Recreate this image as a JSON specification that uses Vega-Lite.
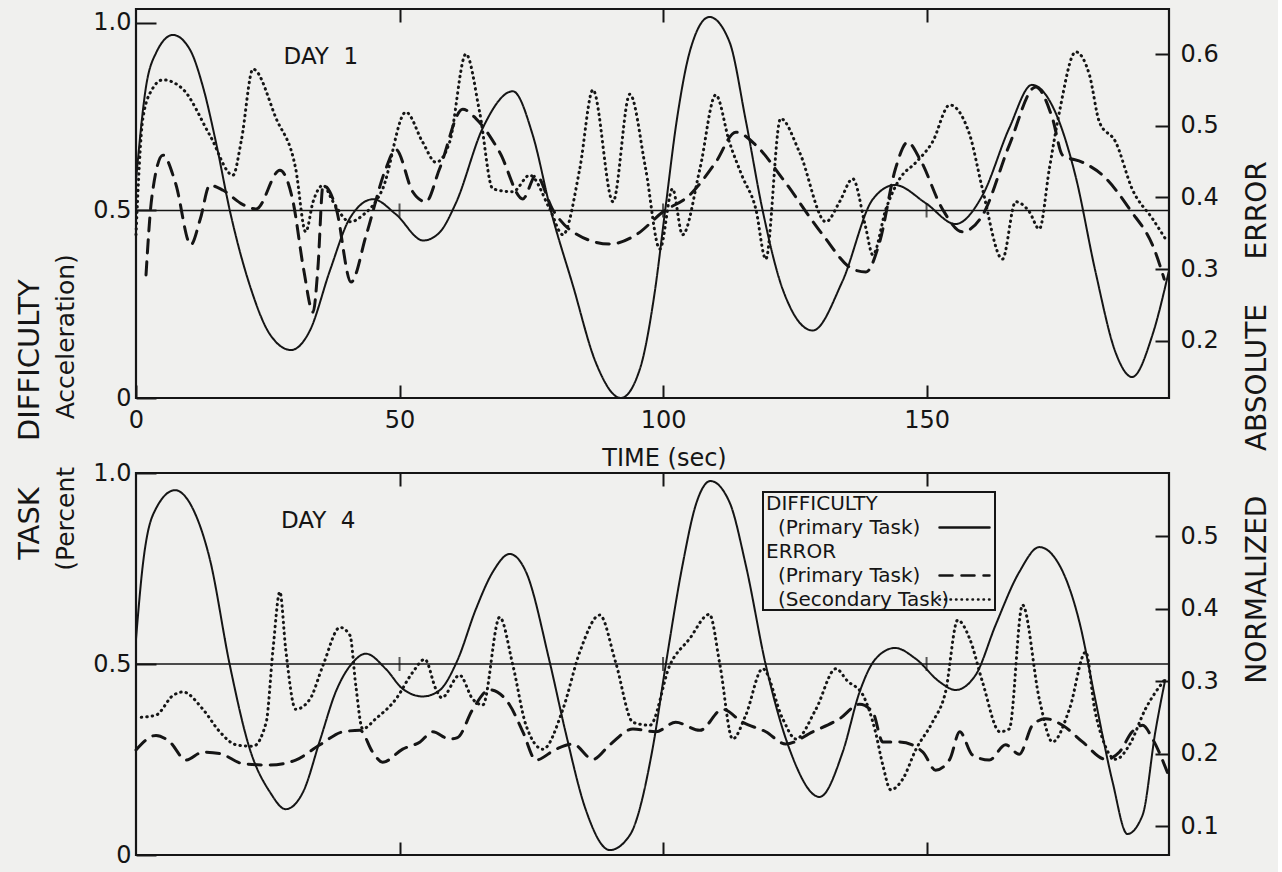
{
  "$schema": "https://vega.github.io/schema/vega-lite/v6.json",
  "background": "#f0f0ee",
  "padding": {"left": 13, "top": 6, "right": 5, "bottom": 5},
  "config": {
    "font": "DejaVu Sans",
    "view": {"stroke": "#151515", "strokeWidth": 2.2},
    "axis": {"grid": false, "domain": false, "tickColor": "#151515", "tickWidth": 2, "labelColor": "#151515", "titleColor": "#151515", "labelFontSize": 24, "titleFontWeight": "normal", "labelFlush": false, "labelOverlap": false},
    "line": {"color": "#151515"},
    "text": {"color": "#151515"}
  },
  "datasets": {
    "day1": [
      {"s": "Difficulty (Primary Task)", "t": 0, "v": 0.58},
      {"s": "Difficulty (Primary Task)", "t": 1.9, "v": 0.83},
      {"s": "Difficulty (Primary Task)", "t": 3.8, "v": 0.92},
      {"s": "Difficulty (Primary Task)", "t": 7, "v": 0.968},
      {"s": "Difficulty (Primary Task)", "t": 10.2, "v": 0.93},
      {"s": "Difficulty (Primary Task)", "t": 12.7, "v": 0.83},
      {"s": "Difficulty (Primary Task)", "t": 15.2, "v": 0.68},
      {"s": "Difficulty (Primary Task)", "t": 17.8, "v": 0.5},
      {"s": "Difficulty (Primary Task)", "t": 21.6, "v": 0.3},
      {"s": "Difficulty (Primary Task)", "t": 25.4, "v": 0.17},
      {"s": "Difficulty (Primary Task)", "t": 29.4, "v": 0.128},
      {"s": "Difficulty (Primary Task)", "t": 33, "v": 0.18},
      {"s": "Difficulty (Primary Task)", "t": 36.8, "v": 0.34},
      {"s": "Difficulty (Primary Task)", "t": 40.6, "v": 0.48},
      {"s": "Difficulty (Primary Task)", "t": 45, "v": 0.53},
      {"s": "Difficulty (Primary Task)", "t": 49.3, "v": 0.49},
      {"s": "Difficulty (Primary Task)", "t": 54.5, "v": 0.42},
      {"s": "Difficulty (Primary Task)", "t": 57.5, "v": 0.44},
      {"s": "Difficulty (Primary Task)", "t": 60.7, "v": 0.52},
      {"s": "Difficulty (Primary Task)", "t": 65.8, "v": 0.72},
      {"s": "Difficulty (Primary Task)", "t": 71.5, "v": 0.818},
      {"s": "Difficulty (Primary Task)", "t": 75.3, "v": 0.7},
      {"s": "Difficulty (Primary Task)", "t": 78.7, "v": 0.5},
      {"s": "Difficulty (Primary Task)", "t": 82.9, "v": 0.3},
      {"s": "Difficulty (Primary Task)", "t": 87.2, "v": 0.096},
      {"s": "Difficulty (Primary Task)", "t": 92, "v": 0.0},
      {"s": "Difficulty (Primary Task)", "t": 95.6, "v": 0.077},
      {"s": "Difficulty (Primary Task)", "t": 98.4, "v": 0.28},
      {"s": "Difficulty (Primary Task)", "t": 100.4, "v": 0.5},
      {"s": "Difficulty (Primary Task)", "t": 102.6, "v": 0.74},
      {"s": "Difficulty (Primary Task)", "t": 105.2, "v": 0.93},
      {"s": "Difficulty (Primary Task)", "t": 108.8, "v": 1.016},
      {"s": "Difficulty (Primary Task)", "t": 112.6, "v": 0.95},
      {"s": "Difficulty (Primary Task)", "t": 115.7, "v": 0.74},
      {"s": "Difficulty (Primary Task)", "t": 118.9, "v": 0.5},
      {"s": "Difficulty (Primary Task)", "t": 122.7, "v": 0.29},
      {"s": "Difficulty (Primary Task)", "t": 128.4, "v": 0.18},
      {"s": "Difficulty (Primary Task)", "t": 134, "v": 0.31},
      {"s": "Difficulty (Primary Task)", "t": 139.8, "v": 0.53},
      {"s": "Difficulty (Primary Task)", "t": 144, "v": 0.568},
      {"s": "Difficulty (Primary Task)", "t": 149.8, "v": 0.52},
      {"s": "Difficulty (Primary Task)", "t": 155.5, "v": 0.464},
      {"s": "Difficulty (Primary Task)", "t": 160.6, "v": 0.54},
      {"s": "Difficulty (Primary Task)", "t": 165.7, "v": 0.72},
      {"s": "Difficulty (Primary Task)", "t": 170, "v": 0.835},
      {"s": "Difficulty (Primary Task)", "t": 174.5, "v": 0.76},
      {"s": "Difficulty (Primary Task)", "t": 178.3, "v": 0.59},
      {"s": "Difficulty (Primary Task)", "t": 182, "v": 0.34},
      {"s": "Difficulty (Primary Task)", "t": 185.9, "v": 0.12},
      {"s": "Difficulty (Primary Task)", "t": 189, "v": 0.056},
      {"s": "Difficulty (Primary Task)", "t": 192.9, "v": 0.17},
      {"s": "Difficulty (Primary Task)", "t": 196, "v": 0.34},
      {"s": "Error (Primary Task)", "t": 1.9, "v": 0.292},
      {"s": "Error (Primary Task)", "t": 3, "v": 0.4},
      {"s": "Error (Primary Task)", "t": 5.1, "v": 0.459},
      {"s": "Error (Primary Task)", "t": 7.5, "v": 0.42},
      {"s": "Error (Primary Task)", "t": 10.4, "v": 0.334},
      {"s": "Error (Primary Task)", "t": 12.2, "v": 0.37},
      {"s": "Error (Primary Task)", "t": 14, "v": 0.417},
      {"s": "Error (Primary Task)", "t": 16.5, "v": 0.41},
      {"s": "Error (Primary Task)", "t": 20.3, "v": 0.39},
      {"s": "Error (Primary Task)", "t": 22.8, "v": 0.384},
      {"s": "Error (Primary Task)", "t": 27.3, "v": 0.438},
      {"s": "Error (Primary Task)", "t": 29.8, "v": 0.394},
      {"s": "Error (Primary Task)", "t": 31.8, "v": 0.3},
      {"s": "Error (Primary Task)", "t": 33.6, "v": 0.24},
      {"s": "Error (Primary Task)", "t": 34.5, "v": 0.3},
      {"s": "Error (Primary Task)", "t": 35.5, "v": 0.417},
      {"s": "Error (Primary Task)", "t": 38, "v": 0.384},
      {"s": "Error (Primary Task)", "t": 40.8, "v": 0.282},
      {"s": "Error (Primary Task)", "t": 43.7, "v": 0.348},
      {"s": "Error (Primary Task)", "t": 47.4, "v": 0.44},
      {"s": "Error (Primary Task)", "t": 49.3, "v": 0.467},
      {"s": "Error (Primary Task)", "t": 52.5, "v": 0.408},
      {"s": "Error (Primary Task)", "t": 55, "v": 0.394},
      {"s": "Error (Primary Task)", "t": 57.6, "v": 0.44},
      {"s": "Error (Primary Task)", "t": 62, "v": 0.523},
      {"s": "Error (Primary Task)", "t": 64.5, "v": 0.51},
      {"s": "Error (Primary Task)", "t": 69, "v": 0.463},
      {"s": "Error (Primary Task)", "t": 73.4, "v": 0.398},
      {"s": "Error (Primary Task)", "t": 75.9, "v": 0.431},
      {"s": "Error (Primary Task)", "t": 79, "v": 0.384},
      {"s": "Error (Primary Task)", "t": 82.9, "v": 0.352},
      {"s": "Error (Primary Task)", "t": 89.9, "v": 0.335},
      {"s": "Error (Primary Task)", "t": 94.9, "v": 0.348},
      {"s": "Error (Primary Task)", "t": 100, "v": 0.38},
      {"s": "Error (Primary Task)", "t": 105, "v": 0.403},
      {"s": "Error (Primary Task)", "t": 110, "v": 0.449},
      {"s": "Error (Primary Task)", "t": 113.8, "v": 0.491},
      {"s": "Error (Primary Task)", "t": 117.6, "v": 0.473},
      {"s": "Error (Primary Task)", "t": 122.7, "v": 0.426},
      {"s": "Error (Primary Task)", "t": 130.3, "v": 0.348},
      {"s": "Error (Primary Task)", "t": 136, "v": 0.3},
      {"s": "Error (Primary Task)", "t": 138.5, "v": 0.296},
      {"s": "Error (Primary Task)", "t": 141.1, "v": 0.338},
      {"s": "Error (Primary Task)", "t": 144.1, "v": 0.44},
      {"s": "Error (Primary Task)", "t": 146.4, "v": 0.477},
      {"s": "Error (Primary Task)", "t": 148.7, "v": 0.454},
      {"s": "Error (Primary Task)", "t": 153, "v": 0.384},
      {"s": "Error (Primary Task)", "t": 156.8, "v": 0.352},
      {"s": "Error (Primary Task)", "t": 160.6, "v": 0.375},
      {"s": "Error (Primary Task)", "t": 165.7, "v": 0.473},
      {"s": "Error (Primary Task)", "t": 170.7, "v": 0.554},
      {"s": "Error (Primary Task)", "t": 173.9, "v": 0.51},
      {"s": "Error (Primary Task)", "t": 175.8, "v": 0.459},
      {"s": "Error (Primary Task)", "t": 179.6, "v": 0.449},
      {"s": "Error (Primary Task)", "t": 183.4, "v": 0.431},
      {"s": "Error (Primary Task)", "t": 188.5, "v": 0.384},
      {"s": "Error (Primary Task)", "t": 193.4, "v": 0.324},
      {"s": "Error (Primary Task)", "t": 195.1, "v": 0.286},
      {"s": "Error (Secondary Task)", "t": 0, "v": 0.348},
      {"s": "Error (Secondary Task)", "t": 1.3, "v": 0.51},
      {"s": "Error (Secondary Task)", "t": 3, "v": 0.55},
      {"s": "Error (Secondary Task)", "t": 5.1, "v": 0.564},
      {"s": "Error (Secondary Task)", "t": 8.9, "v": 0.551},
      {"s": "Error (Secondary Task)", "t": 14, "v": 0.487},
      {"s": "Error (Secondary Task)", "t": 18.4, "v": 0.431},
      {"s": "Error (Secondary Task)", "t": 20, "v": 0.48},
      {"s": "Error (Secondary Task)", "t": 22.2, "v": 0.579},
      {"s": "Error (Secondary Task)", "t": 26.6, "v": 0.51},
      {"s": "Error (Secondary Task)", "t": 30.3, "v": 0.44},
      {"s": "Error (Secondary Task)", "t": 32.2, "v": 0.352},
      {"s": "Error (Secondary Task)", "t": 33.6, "v": 0.394},
      {"s": "Error (Secondary Task)", "t": 35.5, "v": 0.417},
      {"s": "Error (Secondary Task)", "t": 37.4, "v": 0.394},
      {"s": "Error (Secondary Task)", "t": 40.6, "v": 0.366},
      {"s": "Error (Secondary Task)", "t": 43, "v": 0.375},
      {"s": "Error (Secondary Task)", "t": 46.8, "v": 0.412},
      {"s": "Error (Secondary Task)", "t": 51.2, "v": 0.519},
      {"s": "Error (Secondary Task)", "t": 54.4, "v": 0.477},
      {"s": "Error (Secondary Task)", "t": 56.9, "v": 0.449},
      {"s": "Error (Secondary Task)", "t": 59.5, "v": 0.477},
      {"s": "Error (Secondary Task)", "t": 62.6, "v": 0.6},
      {"s": "Error (Secondary Task)", "t": 65.2, "v": 0.519},
      {"s": "Error (Secondary Task)", "t": 67.7, "v": 0.412},
      {"s": "Error (Secondary Task)", "t": 71.5, "v": 0.408},
      {"s": "Error (Secondary Task)", "t": 74.7, "v": 0.431},
      {"s": "Error (Secondary Task)", "t": 78.5, "v": 0.384},
      {"s": "Error (Secondary Task)", "t": 81, "v": 0.348},
      {"s": "Error (Secondary Task)", "t": 84.2, "v": 0.44},
      {"s": "Error (Secondary Task)", "t": 86.7, "v": 0.55},
      {"s": "Error (Secondary Task)", "t": 90.5, "v": 0.394},
      {"s": "Error (Secondary Task)", "t": 93.7, "v": 0.544},
      {"s": "Error (Secondary Task)", "t": 96.7, "v": 0.44},
      {"s": "Error (Secondary Task)", "t": 99.4, "v": 0.328},
      {"s": "Error (Secondary Task)", "t": 101.8, "v": 0.412},
      {"s": "Error (Secondary Task)", "t": 103.7, "v": 0.348},
      {"s": "Error (Secondary Task)", "t": 107, "v": 0.44},
      {"s": "Error (Secondary Task)", "t": 110, "v": 0.543},
      {"s": "Error (Secondary Task)", "t": 112.6, "v": 0.477},
      {"s": "Error (Secondary Task)", "t": 115, "v": 0.43},
      {"s": "Error (Secondary Task)", "t": 117.6, "v": 0.384},
      {"s": "Error (Secondary Task)", "t": 119.5, "v": 0.314},
      {"s": "Error (Secondary Task)", "t": 122.3, "v": 0.51},
      {"s": "Error (Secondary Task)", "t": 125.9, "v": 0.463},
      {"s": "Error (Secondary Task)", "t": 130.9, "v": 0.366},
      {"s": "Error (Secondary Task)", "t": 133.5, "v": 0.394},
      {"s": "Error (Secondary Task)", "t": 136, "v": 0.426},
      {"s": "Error (Secondary Task)", "t": 138.4, "v": 0.36},
      {"s": "Error (Secondary Task)", "t": 139.8, "v": 0.32},
      {"s": "Error (Secondary Task)", "t": 142.3, "v": 0.384},
      {"s": "Error (Secondary Task)", "t": 144.9, "v": 0.426},
      {"s": "Error (Secondary Task)", "t": 148, "v": 0.449},
      {"s": "Error (Secondary Task)", "t": 151.1, "v": 0.477},
      {"s": "Error (Secondary Task)", "t": 154.4, "v": 0.529},
      {"s": "Error (Secondary Task)", "t": 158.2, "v": 0.487},
      {"s": "Error (Secondary Task)", "t": 160.6, "v": 0.412},
      {"s": "Error (Secondary Task)", "t": 164.4, "v": 0.314},
      {"s": "Error (Secondary Task)", "t": 166.9, "v": 0.394},
      {"s": "Error (Secondary Task)", "t": 169.5, "v": 0.38},
      {"s": "Error (Secondary Task)", "t": 171.4, "v": 0.356},
      {"s": "Error (Secondary Task)", "t": 173.3, "v": 0.44},
      {"s": "Error (Secondary Task)", "t": 175.2, "v": 0.519},
      {"s": "Error (Secondary Task)", "t": 178.3, "v": 0.603},
      {"s": "Error (Secondary Task)", "t": 180.9, "v": 0.571},
      {"s": "Error (Secondary Task)", "t": 182.8, "v": 0.505},
      {"s": "Error (Secondary Task)", "t": 185.9, "v": 0.477},
      {"s": "Error (Secondary Task)", "t": 189, "v": 0.412},
      {"s": "Error (Secondary Task)", "t": 192.9, "v": 0.37},
      {"s": "Error (Secondary Task)", "t": 195.7, "v": 0.338}
    ],
    "day4": [
      {"s": "Difficulty (Primary Task)", "t": 0, "v": 0.565},
      {"s": "Difficulty (Primary Task)", "t": 1.3, "v": 0.76},
      {"s": "Difficulty (Primary Task)", "t": 3.2, "v": 0.89},
      {"s": "Difficulty (Primary Task)", "t": 7.4, "v": 0.955},
      {"s": "Difficulty (Primary Task)", "t": 10.8, "v": 0.906},
      {"s": "Difficulty (Primary Task)", "t": 14, "v": 0.775},
      {"s": "Difficulty (Primary Task)", "t": 17.8, "v": 0.497},
      {"s": "Difficulty (Primary Task)", "t": 21.6, "v": 0.277},
      {"s": "Difficulty (Primary Task)", "t": 25.4, "v": 0.165},
      {"s": "Difficulty (Primary Task)", "t": 28.4, "v": 0.12},
      {"s": "Difficulty (Primary Task)", "t": 31.7, "v": 0.165},
      {"s": "Difficulty (Primary Task)", "t": 34.9, "v": 0.3},
      {"s": "Difficulty (Primary Task)", "t": 37.9, "v": 0.427},
      {"s": "Difficulty (Primary Task)", "t": 41.2, "v": 0.505},
      {"s": "Difficulty (Primary Task)", "t": 43.6, "v": 0.527},
      {"s": "Difficulty (Primary Task)", "t": 47.4, "v": 0.487},
      {"s": "Difficulty (Primary Task)", "t": 50.6, "v": 0.435},
      {"s": "Difficulty (Primary Task)", "t": 54.4, "v": 0.415},
      {"s": "Difficulty (Primary Task)", "t": 57.5, "v": 0.43},
      {"s": "Difficulty (Primary Task)", "t": 61, "v": 0.51},
      {"s": "Difficulty (Primary Task)", "t": 64.5, "v": 0.644},
      {"s": "Difficulty (Primary Task)", "t": 67.7, "v": 0.741},
      {"s": "Difficulty (Primary Task)", "t": 70.9, "v": 0.788},
      {"s": "Difficulty (Primary Task)", "t": 74, "v": 0.741},
      {"s": "Difficulty (Primary Task)", "t": 78.5, "v": 0.505},
      {"s": "Difficulty (Primary Task)", "t": 81.5, "v": 0.322},
      {"s": "Difficulty (Primary Task)", "t": 85.3, "v": 0.12},
      {"s": "Difficulty (Primary Task)", "t": 89.9, "v": 0.013},
      {"s": "Difficulty (Primary Task)", "t": 93.7, "v": 0.052},
      {"s": "Difficulty (Primary Task)", "t": 98, "v": 0.277},
      {"s": "Difficulty (Primary Task)", "t": 100.5, "v": 0.497},
      {"s": "Difficulty (Primary Task)", "t": 103.7, "v": 0.759},
      {"s": "Difficulty (Primary Task)", "t": 106.2, "v": 0.916},
      {"s": "Difficulty (Primary Task)", "t": 109, "v": 0.979},
      {"s": "Difficulty (Primary Task)", "t": 112.6, "v": 0.924},
      {"s": "Difficulty (Primary Task)", "t": 115.7, "v": 0.759},
      {"s": "Difficulty (Primary Task)", "t": 119.5, "v": 0.497},
      {"s": "Difficulty (Primary Task)", "t": 124, "v": 0.277},
      {"s": "Difficulty (Primary Task)", "t": 129.7, "v": 0.152},
      {"s": "Difficulty (Primary Task)", "t": 134.1, "v": 0.27},
      {"s": "Difficulty (Primary Task)", "t": 137.3, "v": 0.427},
      {"s": "Difficulty (Primary Task)", "t": 140.3, "v": 0.513},
      {"s": "Difficulty (Primary Task)", "t": 144, "v": 0.542},
      {"s": "Difficulty (Primary Task)", "t": 148, "v": 0.513},
      {"s": "Difficulty (Primary Task)", "t": 152.5, "v": 0.453},
      {"s": "Difficulty (Primary Task)", "t": 155.5, "v": 0.432},
      {"s": "Difficulty (Primary Task)", "t": 159.3, "v": 0.471},
      {"s": "Difficulty (Primary Task)", "t": 163.1, "v": 0.602},
      {"s": "Difficulty (Primary Task)", "t": 167.6, "v": 0.741},
      {"s": "Difficulty (Primary Task)", "t": 171.4, "v": 0.806},
      {"s": "Difficulty (Primary Task)", "t": 175.2, "v": 0.759},
      {"s": "Difficulty (Primary Task)", "t": 179, "v": 0.61},
      {"s": "Difficulty (Primary Task)", "t": 182, "v": 0.408},
      {"s": "Difficulty (Primary Task)", "t": 185.3, "v": 0.191},
      {"s": "Difficulty (Primary Task)", "t": 188.1, "v": 0.055},
      {"s": "Difficulty (Primary Task)", "t": 191, "v": 0.105},
      {"s": "Difficulty (Primary Task)", "t": 193.4, "v": 0.322},
      {"s": "Difficulty (Primary Task)", "t": 195.3, "v": 0.46},
      {"s": "Error (Primary Task)", "t": 0, "v": 0.205},
      {"s": "Error (Primary Task)", "t": 3.8, "v": 0.225},
      {"s": "Error (Primary Task)", "t": 6.4, "v": 0.216},
      {"s": "Error (Primary Task)", "t": 9.5, "v": 0.191},
      {"s": "Error (Primary Task)", "t": 12.7, "v": 0.202},
      {"s": "Error (Primary Task)", "t": 15.9, "v": 0.2},
      {"s": "Error (Primary Task)", "t": 20.3, "v": 0.186},
      {"s": "Error (Primary Task)", "t": 25.4, "v": 0.184},
      {"s": "Error (Primary Task)", "t": 30.3, "v": 0.191},
      {"s": "Error (Primary Task)", "t": 34.9, "v": 0.212},
      {"s": "Error (Primary Task)", "t": 39.3, "v": 0.23},
      {"s": "Error (Primary Task)", "t": 42.5, "v": 0.232},
      {"s": "Error (Primary Task)", "t": 44.9, "v": 0.202},
      {"s": "Error (Primary Task)", "t": 46.8, "v": 0.188},
      {"s": "Error (Primary Task)", "t": 50.6, "v": 0.206},
      {"s": "Error (Primary Task)", "t": 53.9, "v": 0.216},
      {"s": "Error (Primary Task)", "t": 56.3, "v": 0.23},
      {"s": "Error (Primary Task)", "t": 59.5, "v": 0.22},
      {"s": "Error (Primary Task)", "t": 61, "v": 0.222},
      {"s": "Error (Primary Task)", "t": 63.9, "v": 0.261},
      {"s": "Error (Primary Task)", "t": 67.1, "v": 0.288},
      {"s": "Error (Primary Task)", "t": 70.9, "v": 0.267},
      {"s": "Error (Primary Task)", "t": 73.4, "v": 0.23},
      {"s": "Error (Primary Task)", "t": 75.9, "v": 0.191},
      {"s": "Error (Primary Task)", "t": 79.7, "v": 0.206},
      {"s": "Error (Primary Task)", "t": 82.9, "v": 0.213},
      {"s": "Error (Primary Task)", "t": 86.7, "v": 0.192},
      {"s": "Error (Primary Task)", "t": 89.9, "v": 0.212},
      {"s": "Error (Primary Task)", "t": 94.3, "v": 0.234},
      {"s": "Error (Primary Task)", "t": 98.6, "v": 0.23},
      {"s": "Error (Primary Task)", "t": 102.4, "v": 0.243},
      {"s": "Error (Primary Task)", "t": 107, "v": 0.232},
      {"s": "Error (Primary Task)", "t": 111.3, "v": 0.261},
      {"s": "Error (Primary Task)", "t": 115.1, "v": 0.243},
      {"s": "Error (Primary Task)", "t": 119.5, "v": 0.23},
      {"s": "Error (Primary Task)", "t": 123.3, "v": 0.213},
      {"s": "Error (Primary Task)", "t": 128.4, "v": 0.23},
      {"s": "Error (Primary Task)", "t": 133.5, "v": 0.248},
      {"s": "Error (Primary Task)", "t": 137.3, "v": 0.268},
      {"s": "Error (Primary Task)", "t": 139.8, "v": 0.257},
      {"s": "Error (Primary Task)", "t": 141.7, "v": 0.216},
      {"s": "Error (Primary Task)", "t": 144.9, "v": 0.216},
      {"s": "Error (Primary Task)", "t": 149.3, "v": 0.202},
      {"s": "Error (Primary Task)", "t": 151.7, "v": 0.177},
      {"s": "Error (Primary Task)", "t": 154.4, "v": 0.192},
      {"s": "Error (Primary Task)", "t": 156.3, "v": 0.23},
      {"s": "Error (Primary Task)", "t": 158.7, "v": 0.198},
      {"s": "Error (Primary Task)", "t": 161.9, "v": 0.191},
      {"s": "Error (Primary Task)", "t": 165, "v": 0.212},
      {"s": "Error (Primary Task)", "t": 167.6, "v": 0.199},
      {"s": "Error (Primary Task)", "t": 170.1, "v": 0.239},
      {"s": "Error (Primary Task)", "t": 172.6, "v": 0.248},
      {"s": "Error (Primary Task)", "t": 175.8, "v": 0.239},
      {"s": "Error (Primary Task)", "t": 179.6, "v": 0.216},
      {"s": "Error (Primary Task)", "t": 184, "v": 0.192},
      {"s": "Error (Primary Task)", "t": 186.6, "v": 0.202},
      {"s": "Error (Primary Task)", "t": 189, "v": 0.23},
      {"s": "Error (Primary Task)", "t": 191, "v": 0.239},
      {"s": "Error (Primary Task)", "t": 192.9, "v": 0.22},
      {"s": "Error (Primary Task)", "t": 195.7, "v": 0.174},
      {"s": "Error (Secondary Task)", "t": 1, "v": 0.25},
      {"s": "Error (Secondary Task)", "t": 3.8, "v": 0.253},
      {"s": "Error (Secondary Task)", "t": 7, "v": 0.28},
      {"s": "Error (Secondary Task)", "t": 8.9, "v": 0.285},
      {"s": "Error (Secondary Task)", "t": 12.7, "v": 0.261},
      {"s": "Error (Secondary Task)", "t": 15.9, "v": 0.23},
      {"s": "Error (Secondary Task)", "t": 19, "v": 0.212},
      {"s": "Error (Secondary Task)", "t": 22.2, "v": 0.21},
      {"s": "Error (Secondary Task)", "t": 24.7, "v": 0.243},
      {"s": "Error (Secondary Task)", "t": 26, "v": 0.344},
      {"s": "Error (Secondary Task)", "t": 27.3, "v": 0.423},
      {"s": "Error (Secondary Task)", "t": 28.4, "v": 0.344},
      {"s": "Error (Secondary Task)", "t": 30.3, "v": 0.261},
      {"s": "Error (Secondary Task)", "t": 33, "v": 0.275},
      {"s": "Error (Secondary Task)", "t": 35.5, "v": 0.322},
      {"s": "Error (Secondary Task)", "t": 38.7, "v": 0.374},
      {"s": "Error (Secondary Task)", "t": 40.6, "v": 0.363},
      {"s": "Error (Secondary Task)", "t": 41.7, "v": 0.294},
      {"s": "Error (Secondary Task)", "t": 43, "v": 0.234},
      {"s": "Error (Secondary Task)", "t": 45.5, "v": 0.248},
      {"s": "Error (Secondary Task)", "t": 49.3, "v": 0.275},
      {"s": "Error (Secondary Task)", "t": 52.5, "v": 0.312},
      {"s": "Error (Secondary Task)", "t": 54.8, "v": 0.33},
      {"s": "Error (Secondary Task)", "t": 56.9, "v": 0.289},
      {"s": "Error (Secondary Task)", "t": 58, "v": 0.277},
      {"s": "Error (Secondary Task)", "t": 61.4, "v": 0.308},
      {"s": "Error (Secondary Task)", "t": 63.9, "v": 0.275},
      {"s": "Error (Secondary Task)", "t": 65.8, "v": 0.267},
      {"s": "Error (Secondary Task)", "t": 69, "v": 0.388},
      {"s": "Error (Secondary Task)", "t": 71.5, "v": 0.322},
      {"s": "Error (Secondary Task)", "t": 74, "v": 0.239},
      {"s": "Error (Secondary Task)", "t": 77.2, "v": 0.206},
      {"s": "Error (Secondary Task)", "t": 81, "v": 0.261},
      {"s": "Error (Secondary Task)", "t": 84.2, "v": 0.34},
      {"s": "Error (Secondary Task)", "t": 88, "v": 0.391},
      {"s": "Error (Secondary Task)", "t": 91, "v": 0.326},
      {"s": "Error (Secondary Task)", "t": 94.3, "v": 0.243},
      {"s": "Error (Secondary Task)", "t": 97.5, "v": 0.239},
      {"s": "Error (Secondary Task)", "t": 101.3, "v": 0.322},
      {"s": "Error (Secondary Task)", "t": 105, "v": 0.358},
      {"s": "Error (Secondary Task)", "t": 108.8, "v": 0.392},
      {"s": "Error (Secondary Task)", "t": 110.8, "v": 0.322},
      {"s": "Error (Secondary Task)", "t": 113.2, "v": 0.22},
      {"s": "Error (Secondary Task)", "t": 115.7, "v": 0.253},
      {"s": "Error (Secondary Task)", "t": 118.9, "v": 0.317},
      {"s": "Error (Secondary Task)", "t": 122.7, "v": 0.248},
      {"s": "Error (Secondary Task)", "t": 125.2, "v": 0.22},
      {"s": "Error (Secondary Task)", "t": 129, "v": 0.261},
      {"s": "Error (Secondary Task)", "t": 132.8, "v": 0.317},
      {"s": "Error (Secondary Task)", "t": 135, "v": 0.3},
      {"s": "Error (Secondary Task)", "t": 137.9, "v": 0.281},
      {"s": "Error (Secondary Task)", "t": 140.3, "v": 0.23},
      {"s": "Error (Secondary Task)", "t": 141.7, "v": 0.184},
      {"s": "Error (Secondary Task)", "t": 143.2, "v": 0.15},
      {"s": "Error (Secondary Task)", "t": 145.5, "v": 0.165},
      {"s": "Error (Secondary Task)", "t": 148, "v": 0.206},
      {"s": "Error (Secondary Task)", "t": 151.1, "v": 0.243},
      {"s": "Error (Secondary Task)", "t": 153.6, "v": 0.285},
      {"s": "Error (Secondary Task)", "t": 155.9, "v": 0.384},
      {"s": "Error (Secondary Task)", "t": 158.2, "v": 0.358},
      {"s": "Error (Secondary Task)", "t": 160.6, "v": 0.299},
      {"s": "Error (Secondary Task)", "t": 163.9, "v": 0.23},
      {"s": "Error (Secondary Task)", "t": 165.7, "v": 0.234},
      {"s": "Error (Secondary Task)", "t": 168.2, "v": 0.405},
      {"s": "Error (Secondary Task)", "t": 171.4, "v": 0.275},
      {"s": "Error (Secondary Task)", "t": 173.9, "v": 0.216},
      {"s": "Error (Secondary Task)", "t": 177.1, "v": 0.261},
      {"s": "Error (Secondary Task)", "t": 180.2, "v": 0.34},
      {"s": "Error (Secondary Task)", "t": 181.9, "v": 0.261},
      {"s": "Error (Secondary Task)", "t": 183.4, "v": 0.22},
      {"s": "Error (Secondary Task)", "t": 185.9, "v": 0.192},
      {"s": "Error (Secondary Task)", "t": 188.5, "v": 0.212},
      {"s": "Error (Secondary Task)", "t": 191.5, "v": 0.261},
      {"s": "Error (Secondary Task)", "t": 195.3, "v": 0.303}
    ]
  },
  "spacing": 75,
  "bounds": "flush",
  "resolve": {"scale": {"x": "independent", "y": "independent", "strokeDash": "independent"}, "legend": {"strokeDash": "independent"}},
  "vconcat": [
    {
      "width": 1033,
      "height": 389,
      "data": {"name": "day1"},
      "layer": [
        {
          "layer": [
            {
              "data": {"values": [{}]},
              "mark": {"type": "rule", "strokeWidth": 1.5, "color": "#151515"},
              "encoding": {"y": {"datum": 0.5, "type": "quantitative"}}
            },
            {
              "data": {"values": [{"t": 50}, {"t": 100}, {"t": 150}]},
              "mark": {"type": "tick", "orient": "vertical", "size": 14, "thickness": 2, "color": "#151515"},
              "encoding": {"x": {"field": "t", "type": "quantitative"}, "y": {"datum": 0.5, "type": "quantitative"}}
            },
            {
              "transform": [{"filter": "datum.s == 'Difficulty (Primary Task)'"}],
              "mark": {"type": "line", "interpolate": "monotone", "strokeWidth": 2},
              "encoding": {
                "x": {"field": "t", "type": "quantitative", "scale": {"domain": [0, 196], "nice": false, "zero": false},
                  "axis": {"orient": "bottom", "values": [0, 50, 100, 150], "tickSize": -13, "labelPadding": 23, "title": "TIME (sec)", "titleFontSize": 24, "titleX": 528, "titleY": 67, "titleBaseline": "alphabetic", "titleAlign": "center"}},
                "y": {"field": "v", "type": "quantitative", "scale": {"domain": [0, 1.0373], "nice": false, "zero": false},
                  "axis": {"orient": "left", "values": [0, 0.5, 1], "tickSize": -20, "labelPadding": 25, "labelExpr": "datum.value == 0 ? '0' : format(datum.value, '.1f')", "title": "TASK\u00a0\u00a0\u00a0\u00a0\u00a0DIFFICULTY", "titleFontSize": 29, "titleAngle": 270, "titleX": -98, "titleY": 410, "titleBaseline": "alphabetic", "titleAlign": "center"}},
                "strokeDash": {"field": "s", "type": "nominal", "legend": null,
                  "scale": {"domain": ["DIFFICULTY", "Difficulty (Primary Task)", "ERROR", "Error (Primary Task)", "Error (Secondary Task)"], "range": [[0, 1000], [1, 0], [0, 1000], [13, 9], [0.5, 5]]}}
              }
            },
            {
              "data": {"values": [{"label": "DAY\u00a0\u00a01"}]},
              "mark": {"type": "text", "align": "left", "baseline": "middle", "fontSize": 23, "color": "#151515"},
              "encoding": {"x": {"datum": 28, "type": "quantitative"}, "y": {"datum": 0.91, "type": "quantitative"}, "text": {"field": "label"}}
            }
          ]
        },
        {
          "transform": [{"filter": "datum.s != 'Difficulty (Primary Task)'"}],
          "mark": {"type": "line", "interpolate": "monotone", "strokeWidth": 3, "strokeCap": "round"},
          "encoding": {
            "x": {"field": "t", "type": "quantitative", "scale": {"domain": [0, 196], "nice": false, "zero": false},
              "axis": {"orient": "top", "values": [50, 100, 150], "labels": false, "tickSize": -13, "title": null}},
            "y": {"field": "v", "type": "quantitative", "scale": {"domain": [0.1203, 0.6628], "nice": false, "zero": false},
              "axis": {"orient": "right", "values": [0.2, 0.3, 0.4, 0.5, 0.6], "format": ".1f", "tickSize": -14, "labelPadding": 25, "title": "NORMALIZED\u00a0\u00a0\u00a0\u00a0\u00a0ABSOLUTE\u00a0\u00a0\u00a0\u00a0\u00a0ERROR", "titleFontSize": 28, "titleAngle": 270, "titleX": 96, "titleY": 413, "titleBaseline": "alphabetic", "titleAlign": "center"}},
            "strokeDash": {"field": "s", "type": "nominal", "legend": null,
              "scale": {"domain": ["DIFFICULTY", "Difficulty (Primary Task)", "ERROR", "Error (Primary Task)", "Error (Secondary Task)"], "range": [[0, 1000], [1, 0], [0, 1000], [13, 9], [0.5, 5]]}}
          }
        }
      ],
      "resolve": {"scale": {"y": "independent"}, "axis": {"x": "independent"}}
    },
    {
      "width": 1033,
      "height": 382,
      "data": {"name": "day4"},
      "layer": [
        {
          "layer": [
            {
              "data": {"values": [{}]},
              "mark": {"type": "rule", "strokeWidth": 1.5, "color": "#151515"},
              "encoding": {"y": {"datum": 0.5, "type": "quantitative"}}
            },
            {
              "data": {"values": [{"t": 50}, {"t": 100}, {"t": 150}]},
              "mark": {"type": "tick", "orient": "vertical", "size": 14, "thickness": 2, "color": "#151515"},
              "encoding": {"x": {"field": "t", "type": "quantitative"}, "y": {"datum": 0.5, "type": "quantitative"}}
            },
            {
              "transform": [{"filter": "datum.s == 'Difficulty (Primary Task)'"}],
              "mark": {"type": "line", "interpolate": "monotone", "strokeWidth": 2},
              "encoding": {
                "x": {"field": "t", "type": "quantitative", "scale": {"domain": [0, 196], "nice": false, "zero": false},
                  "axis": {"orient": "bottom", "values": [50, 100, 150], "labels": false, "tickSize": -13, "title": null}},
                "y": {"field": "v", "type": "quantitative", "scale": {"domain": [0, 1], "nice": false, "zero": false},
                  "axis": {"orient": "left", "values": [0, 0.5, 1], "tickSize": -20, "labelPadding": 25, "labelExpr": "datum.value == 0 ? '0' : format(datum.value, '.1f')", "title": "(Percent\u00a0\u00a0\u00a0\u00a0\u00a0\u00a0Acceleration)", "titleFontSize": 25, "titleAngle": 270, "titleX": -63, "titleY": -61, "titleBaseline": "alphabetic", "titleAlign": "center"}},
                "strokeDash": {"field": "s", "type": "nominal",
                  "scale": {"domain": ["DIFFICULTY", "Difficulty (Primary Task)", "ERROR", "Error (Primary Task)", "Error (Secondary Task)"], "range": [[0, 1000], [1, 0], [0, 1000], [13, 9], [0.5, 5]]},
                  "legend": {"orient": "none", "legendX": 627, "legendY": 19, "title": null, "symbolType": "M-2.5,0H2.5", "symbolSize": 400, "symbolStrokeWidth": 2.5, "symbolStrokeColor": "#151515", "symbolOffset": 190, "labelOffset": -210, "labelFontSize": 20, "labelLimit": 400, "labelColor": "#151515", "labelExpr": "datum.label == 'DIFFICULTY' || datum.label == 'ERROR' ? datum.label : substring(datum.label, indexof(datum.label, '('))", "rowPadding": 2, "padding": 0, "strokeColor": "#151515", "fillColor": "#f0f0ee", "encode": {"legend": {"update": {"strokeWidth": {"value": 2}}}, "labels": {"update": {"dx": {"signal": "datum.value == 'DIFFICULTY' || datum.value == 'ERROR' ? 0 : 12"}}}, "symbols": {"update": {"strokeCap": {"value": "round"}, "strokeOpacity": {"signal": "datum.value == 'DIFFICULTY' || datum.value == 'ERROR' ? 0 : 1"}}}}}}
              }
            },
            {
              "data": {"values": [{"label": "DAY\u00a0\u00a04"}]},
              "mark": {"type": "text", "align": "left", "baseline": "middle", "fontSize": 23, "color": "#151515"},
              "encoding": {"x": {"datum": 27.5, "type": "quantitative"}, "y": {"datum": 0.875, "type": "quantitative"}, "text": {"field": "label"}}
            }
          ]
        },
        {
          "transform": [{"filter": "datum.s != 'Difficulty (Primary Task)'"}],
          "mark": {"type": "line", "interpolate": "monotone", "strokeWidth": 3, "strokeCap": "round"},
          "encoding": {
            "x": {"field": "t", "type": "quantitative", "scale": {"domain": [0, 196], "nice": false, "zero": false},
              "axis": {"orient": "top", "values": [50, 100, 150], "labels": false, "tickSize": -13, "title": null}},
            "y": {"field": "v", "type": "quantitative", "scale": {"domain": [0.06, 0.587], "nice": false, "zero": false},
              "axis": {"orient": "right", "values": [0.1, 0.2, 0.3, 0.4, 0.5], "format": ".1f", "tickSize": -14, "labelPadding": 25, "title": null}},
            "strokeDash": {"field": "s", "type": "nominal",
              "scale": {"domain": ["DIFFICULTY", "Difficulty (Primary Task)", "ERROR", "Error (Primary Task)", "Error (Secondary Task)"], "range": [[0, 1000], [1, 0], [0, 1000], [13, 9], [0.5, 5]]},
              "legend": {"orient": "none", "legendX": 627, "legendY": 19, "title": null, "symbolType": "M-2.5,0H2.5", "symbolSize": 400, "symbolStrokeWidth": 2.5, "symbolStrokeColor": "#151515", "symbolOffset": 190, "labelOffset": -210, "labelFontSize": 20, "labelLimit": 400, "labelColor": "#151515", "labelExpr": "datum.label == 'DIFFICULTY' || datum.label == 'ERROR' ? datum.label : substring(datum.label, indexof(datum.label, '('))", "rowPadding": 2, "padding": 0, "strokeColor": "#151515", "fillColor": "#f0f0ee", "encode": {"legend": {"update": {"strokeWidth": {"value": 2}}}, "labels": {"update": {"dx": {"signal": "datum.value == 'DIFFICULTY' || datum.value == 'ERROR' ? 0 : 12"}}}, "symbols": {"update": {"strokeCap": {"value": "round"}, "strokeOpacity": {"signal": "datum.value == 'DIFFICULTY' || datum.value == 'ERROR' ? 0 : 1"}}}}}}
          }
        }
      ],
      "resolve": {"scale": {"y": "independent"}, "axis": {"x": "independent"}}
    }
  ]
}
